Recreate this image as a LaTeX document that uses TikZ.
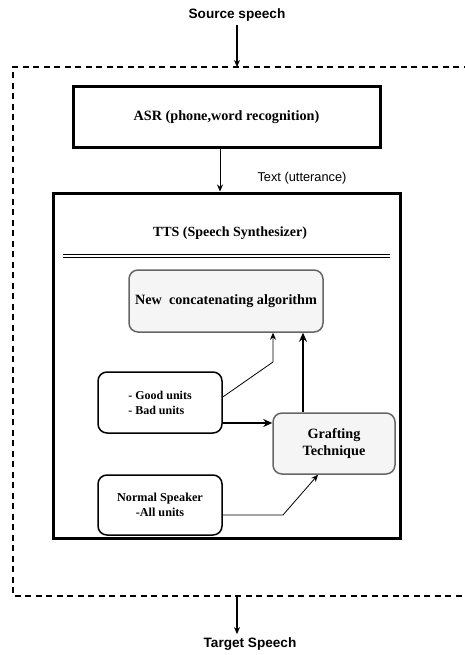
\documentclass[tikz,border=0pt]{standalone}
\usepackage{fontspec}
\setmainfont{Liberation Serif}
\setsansfont{Liberation Sans}
\usetikzlibrary{arrows.meta}

\definecolor{boxgray}{HTML}{F5F5F5}
\definecolor{edgegray}{HTML}{666666}

\begin{document}
\begin{tikzpicture}[x=1pt,y=-1pt,
  heavybox/.style={draw=black, line width=3pt, inner sep=0pt, font=\bfseries\fontsize{14.2}{16}\selectfont},
  greybox/.style={draw=edgegray, fill=boxgray, line width=1.5pt, rounded corners=9pt, inner sep=0pt, align=center},
  whitebox/.style={draw=black, fill=white, line width=1.5pt, rounded corners=9pt, inner sep=0pt},
  outer/.style={font=\sffamily\bfseries\fontsize{13.6}{16}\selectfont},
  thinarrow/.style={draw=black, line width=0.8pt, -{Stealth[length=7pt,width=6pt]}},
  thickarrow/.style={draw=black, line width=1.6pt, -{Stealth[length=9pt,width=8pt]}},
]
\useasboundingbox (0,0) rectangle (464,655);

% outer system boundary (continues past the right edge)
\draw[line width=1.2pt, dash pattern=on 6pt off 4.5pt] (480,67) -- (13,67) -- (13,596) -- (480,596);
\coordinate (intop) at (237,67);
\coordinate (inbot) at (237,596);

% input and output labels
\node[outer] (src) at (237,15) {Source speech};
\node[outer] (tgt) at (250,644) {Target Speech};
\draw[thinarrow, line width=1.1pt] (src.south) -- (intop);
\draw[thinarrow, line width=1.1pt] (inbot) -- (tgt.north -| inbot);

% recognizer
\node[heavybox, minimum width=307pt, minimum height=61pt] (asr) at (226.5,117.5) {ASR (phone,word recognition)};

% synthesizer container
\node[heavybox, minimum width=347pt, minimum height=345pt] (tts) at (226.5,365.5) {};
\node[font=\bfseries\fontsize{14}{16}\selectfont] (ttstitle) at (230,233) {TTS (Speech Synthesizer)};
\draw[line width=0.8pt, double, double distance=2.4pt] (63,256) -- (390,256);

\draw[thinarrow] (asr.south -| intop) ++(-17,0) coordinate (asrout) -- (asrout |- tts.north);
\node[font=\sffamily\fontsize{12.8}{15}\selectfont] (utt) at (302,178) {Text (utterance)};

% inner blocks
\node[greybox, minimum width=194pt, minimum height=62pt, font=\bfseries\fontsize{14.2}{16}\selectfont] (concat) at (226,301) {New\ \ concatenating algorithm};
\node[whitebox, minimum width=124pt, minimum height=61pt, align=left, font=\bfseries\fontsize{12}{15}\selectfont] (good) at (160,402.5) {- Good units\\- Bad units};
\node[whitebox, minimum width=124pt, minimum height=60pt, align=center, font=\bfseries\fontsize{12.2}{15}\selectfont] (normal) at (160,505) {Normal Speaker\\-All units};
\node[greybox, minimum width=122pt, minimum height=61pt, font=\bfseries\fontsize{14.2}{17}\selectfont] (graft) at (334,443.5) {Grafting\\Technique};

% connections
\coordinate (bendA) at (273,362);
\draw[thinarrow] ([yshift=5.5pt]good.east) -- (bendA) -- (bendA |- concat.south);
\draw[thickarrow] ([yshift=-20.5pt]good.east) -- ([yshift=-20.5pt]good.east -| graft.west);
\draw[thickarrow] ([xshift=-31pt]graft.north) -- ([xshift=-31pt]graft.north |- concat.south);
\coordinate (bendB) at (283,515);
\draw[thinarrow] ([yshift=-10pt]normal.east) -- (bendB) -- ([xshift=-16pt]graft.south);
\end{tikzpicture}
\end{document}
